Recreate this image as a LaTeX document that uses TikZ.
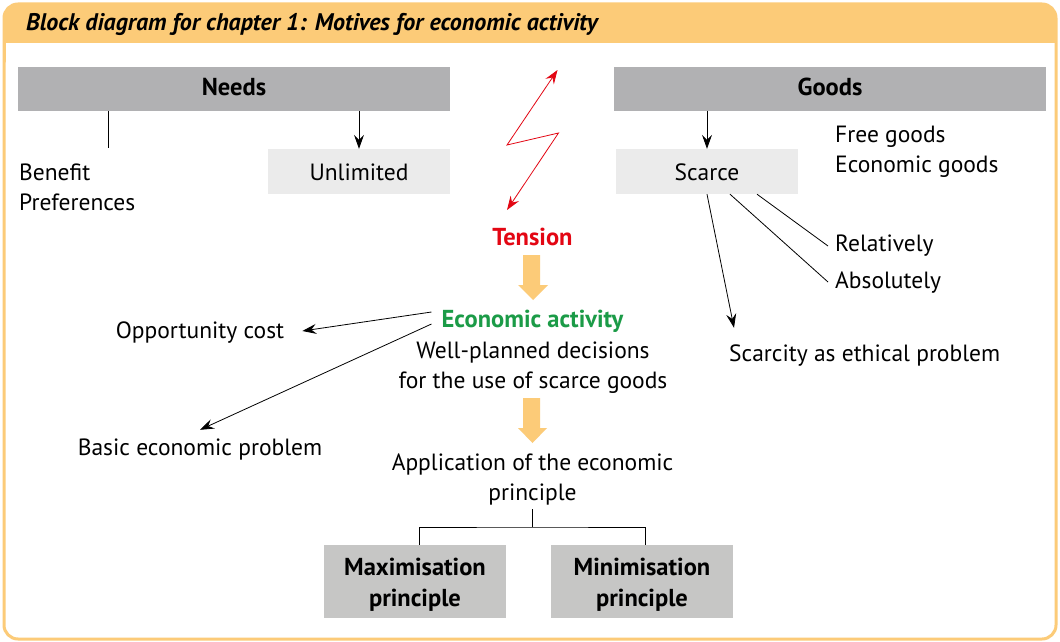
\documentclass[tikz,border=0pt]{standalone}
\usepackage{fontspec}
\setmainfont{PT Sans}
\usetikzlibrary{arrows.meta,calc}
\definecolor{org}{HTML}{FCCB78}
\definecolor{barg}{HTML}{B1B1B3}
\definecolor{lightg}{HTML}{EBEBEB}
\definecolor{darkg}{HTML}{C6C6C5}
\definecolor{tred}{HTML}{E30613}
\definecolor{tgreen}{HTML}{1B9B47}
\newcommand{\regfont}{\fontsize{23.5}{30}\selectfont}
\newcommand{\boldfont}{\fontsize{24.5}{31}\selectfont\bfseries}
\begin{document}
\begin{tikzpicture}[x=1pt,y=-1pt,
  every node/.style={inner sep=0pt, font=\regfont},
  one/.style={text height=16pt, text depth=0pt},
  lbl/.style={one, anchor=west},
  bar/.style={fill=barg, minimum width=432pt, minimum height=44pt, font=\boldfont},
  lbox/.style={fill=lightg, minimum width=182pt, minimum height=45pt},
  dbox/.style={fill=darkg, minimum width=182pt, minimum height=73pt},
  arr/.style={-{Stealth[length=14pt,width=10pt,inset=5pt]}, line width=0.8pt},
  rarr/.style={{Stealth[length=14pt,width=10pt,inset=5pt]}-{Stealth[length=14pt,width=10pt,inset=5pt]}, line width=0.8pt, draw=tred},
  plain/.style={line width=0.8pt},
  blockarr/.style={fill=org}
]
\useasboundingbox (0,0) rectangle (1060,642);
\fill[white] (0,0) rectangle (1060,642);
% frame
\fill[org, rounded corners=14pt] (4,4) rectangle (1056,70);
\fill[white] (5.5,43) rectangle (1054.5,80);
\draw[org, line width=3pt, rounded corners=14pt] (4,4) rectangle (1056,639);
\node[one, anchor=west, font=\fontsize{24}{28}\selectfont\bfseries\itshape] (title) at (26,23) {Block diagram for chapter 1: Motives for economic activity};

% top bars
\node[bar] (needs) at (234,89) {\vphantom{Ng}Needs};
\node[bar] (goods) at (830,89) {\vphantom{Ng}Goods};
\node[lbox] (unl) at (359,171.5) {};
\node[one] (unltxt) at (359,172) {Unlimited};
\node[lbox] (scarce) at (707,171.5) {};
\node[one] (scarcetxt) at (707,172) {Scarce};

\node[lbl] (benefit) at (19,172) {Benefit};
\node[lbl] (pref) at (19,202) {Preferences};
\node[lbl] (free) at (835,134) {Free goods};
\node[lbl] (econgoods) at (835,164) {Economic goods};
\node[lbl] (rel) at (835,243) {Relatively};
\node[lbl] (abs) at (835,280) {Absolutely};
\node[lbl] (ethic) at (729,353) {Scarcity as ethical problem};

\coordinate (benline) at (108,148);
\draw[plain] (needs.south -| benline) -- (benline);
\draw[arr] (needs.south -| unl.north) -- (unl.north);
\draw[arr] (goods.south -| scarce.north) -- (scarce.north);

\draw[plain] ($(scarce.south)+(50,0)$) -- ($(rel.west)+(-7,3)$);
\draw[plain] ($(scarce.south)+(23,0)$) -- ($(abs.west)+(-7,2)$);
\draw[arr] (scarce.south) -- ($(ethic.north west)+(5,-17)$);

% tension zigzag
\coordinate (zt) at (557.5,70);
\coordinate (zl) at (507,145);
\coordinate (zr) at (558.5,133);
\coordinate (zb) at (507,210);
\draw[rarr] (zt) -- (zl) -- (zr) -- (zb);

\node[one, font=\boldfont, text=tred] (tension) at (532.5,237) {Tension};
\fill[blockarr] (523,255) -- (540,255) -- (540,285) -- (548,285) -- (533,300) -- (518,285) -- (523,285) -- cycle;

\node[one, font=\boldfont, text=tgreen] (econ) at (532.5,319) {Economic activity};
\node[one] (wp1) at (533,350) {Well-planned decisions};
\node[one] (wp2) at (533,380) {for the use of scarce goods};
\fill[blockarr] (523,398) -- (540,398) -- (540,428) -- (547,428) -- (532.5,443) -- (518,428) -- (523,428) -- cycle;

\node[one] (opp) at (200,330) {Opportunity cost};
\node[one] (basic) at (200,447) {Basic economic problem};
\draw[arr] ($(econ.west)+(-10,-7)$) -- ($(opp.east)+(18,1)$);
\draw[arr] ($(econ.west)+(-10,5)$) -- ($(basic.north)+(0,-9)$);

\node[one] (app1) at (532.5,462) {Application of the economic};
\node[one] (app2) at (532.5,492) {principle};
\node[dbox] (max) at (415,581.5) {};
\node[dbox] (min) at (642,581.5) {};
\node[one, font=\boldfont] (max1) at (415,567) {Maximisation};
\node[one, font=\boldfont] (max2) at (415,598) {principle};
\node[one, font=\boldfont] (min1) at (642,567) {Minimisation};
\node[one, font=\boldfont] (min2) at (642,598) {principle};
\coordinate (fork) at (532.5,527);
\draw[plain] ($(app2.south)+(0,9)$) -- (fork);
\draw[plain] ($(max.north)+(4,0)$) |- (fork) -| ($(min.north)+(3,0)$);
\end{tikzpicture}
\end{document}
